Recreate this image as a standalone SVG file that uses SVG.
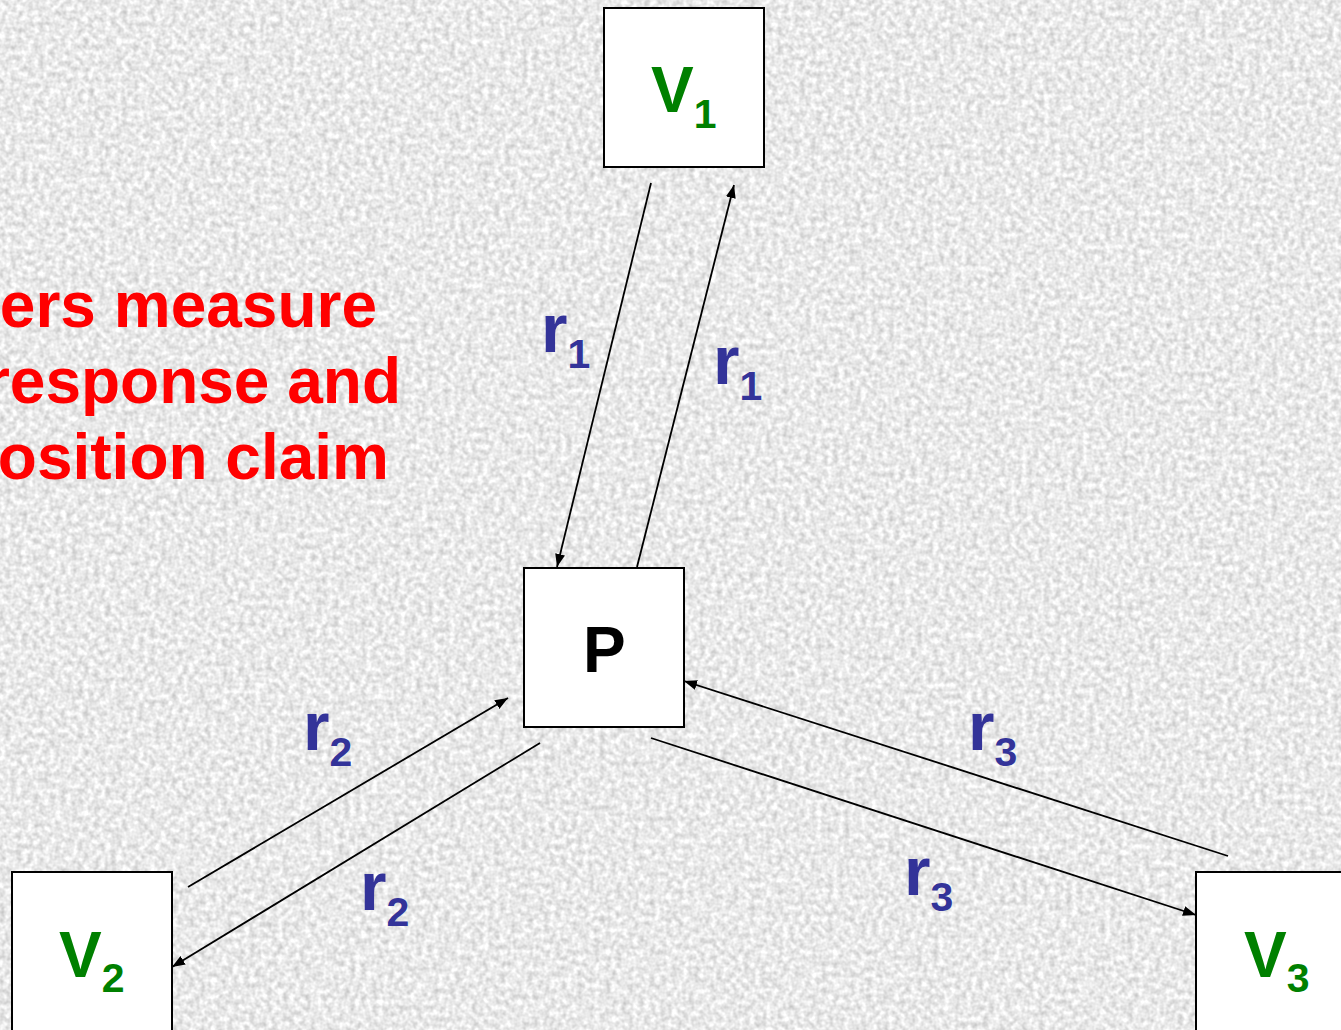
<svg xmlns="http://www.w3.org/2000/svg" width="1341" height="1030" viewBox="0 0 1341 1030">
<style>
.box{fill:#ffffff;stroke:#000000;stroke-width:2}
.v{font-family:"Liberation Sans",Arial,sans-serif;font-weight:bold;font-size:64px;fill:#008000}
.p{font-family:"Liberation Sans",Arial,sans-serif;font-weight:bold;font-size:64px;fill:#000000}
.r{font-family:"Liberation Sans",Arial,sans-serif;font-weight:bold;font-size:68px;fill:#333399}
.t{font-family:"Liberation Sans",Arial,sans-serif;font-weight:bold;font-size:64px;fill:#ff0000;text-anchor:end}
.c{stroke:#000000;stroke-width:1.8;fill:none;marker-end:url(#ah)}
</style>
<defs>
<marker id="ah" viewBox="0 0 13 10" refX="13" refY="5" markerWidth="13" markerHeight="10" markerUnits="userSpaceOnUse" orient="auto">
<path d="M0,0 L13,5 L0,10 Z" fill="#000000"/>
</marker>
<filter id="noise" x="0" y="0" width="100%" height="100%" color-interpolation-filters="sRGB">
<feTurbulence type="fractalNoise" baseFrequency="0.18" numOctaves="2" seed="3" result="n"/>
<feColorMatrix in="n" type="matrix" values="0.35 0 0 0 0.74  0.35 0 0 0 0.74  0.35 0 0 0 0.74  0 0 0 0 1"/>
</filter>
</defs>
<rect id="background" x="0" y="0" width="1341" height="1030" fill="#ebebeb" filter="url(#noise)"/>
<g id="caption">
<text class="t" x="377" y="327">ers measure</text>
<text class="t" x="401" y="403">response and</text>
<text class="t" x="389" y="479">osition claim</text>
</g>
<g id="connectors">
<line class="c" x1="651" y1="183" x2="557" y2="567"/>
<line class="c" x1="637" y1="567" x2="734" y2="185"/>
<line class="c" x1="188" y1="887" x2="508" y2="698"/>
<line class="c" x1="540" y1="743" x2="172" y2="967"/>
<line class="c" x1="1228" y1="856" x2="684" y2="681"/>
<line class="c" x1="651" y1="738" x2="1196" y2="915"/>
</g>
<g id="labels">
<text class="r" x="541" y="352">r<tspan font-size="41" dy="16">1</tspan></text>
<text class="r" x="713" y="384">r<tspan font-size="41" dy="16">1</tspan></text>
<text class="r" x="303" y="750">r<tspan font-size="41" dy="16">2</tspan></text>
<text class="r" x="360" y="910">r<tspan font-size="41" dy="16">2</tspan></text>
<text class="r" x="968" y="750">r<tspan font-size="41" dy="16">3</tspan></text>
<text class="r" x="904" y="895">r<tspan font-size="41" dy="16">3</tspan></text>
</g>
<g id="node-V1">
<rect class="box" x="604" y="8" width="160" height="159"/>
<text class="v" x="651" y="112">V<tspan font-size="41" dy="16">1</tspan></text>
</g>
<g id="node-P">
<rect class="box" x="524" y="568" width="160" height="159"/>
<text class="p" x="583" y="672">P</text>
</g>
<g id="node-V2">
<rect class="box" x="12" y="872" width="160" height="170"/>
<text class="v" x="59" y="977">V<tspan font-size="41" dy="15">2</tspan></text>
</g>
<g id="node-V3">
<rect class="box" x="1196" y="872" width="160" height="170"/>
<text class="v" x="1244" y="977">V<tspan font-size="41" dy="15">3</tspan></text>
</g>
</svg>
